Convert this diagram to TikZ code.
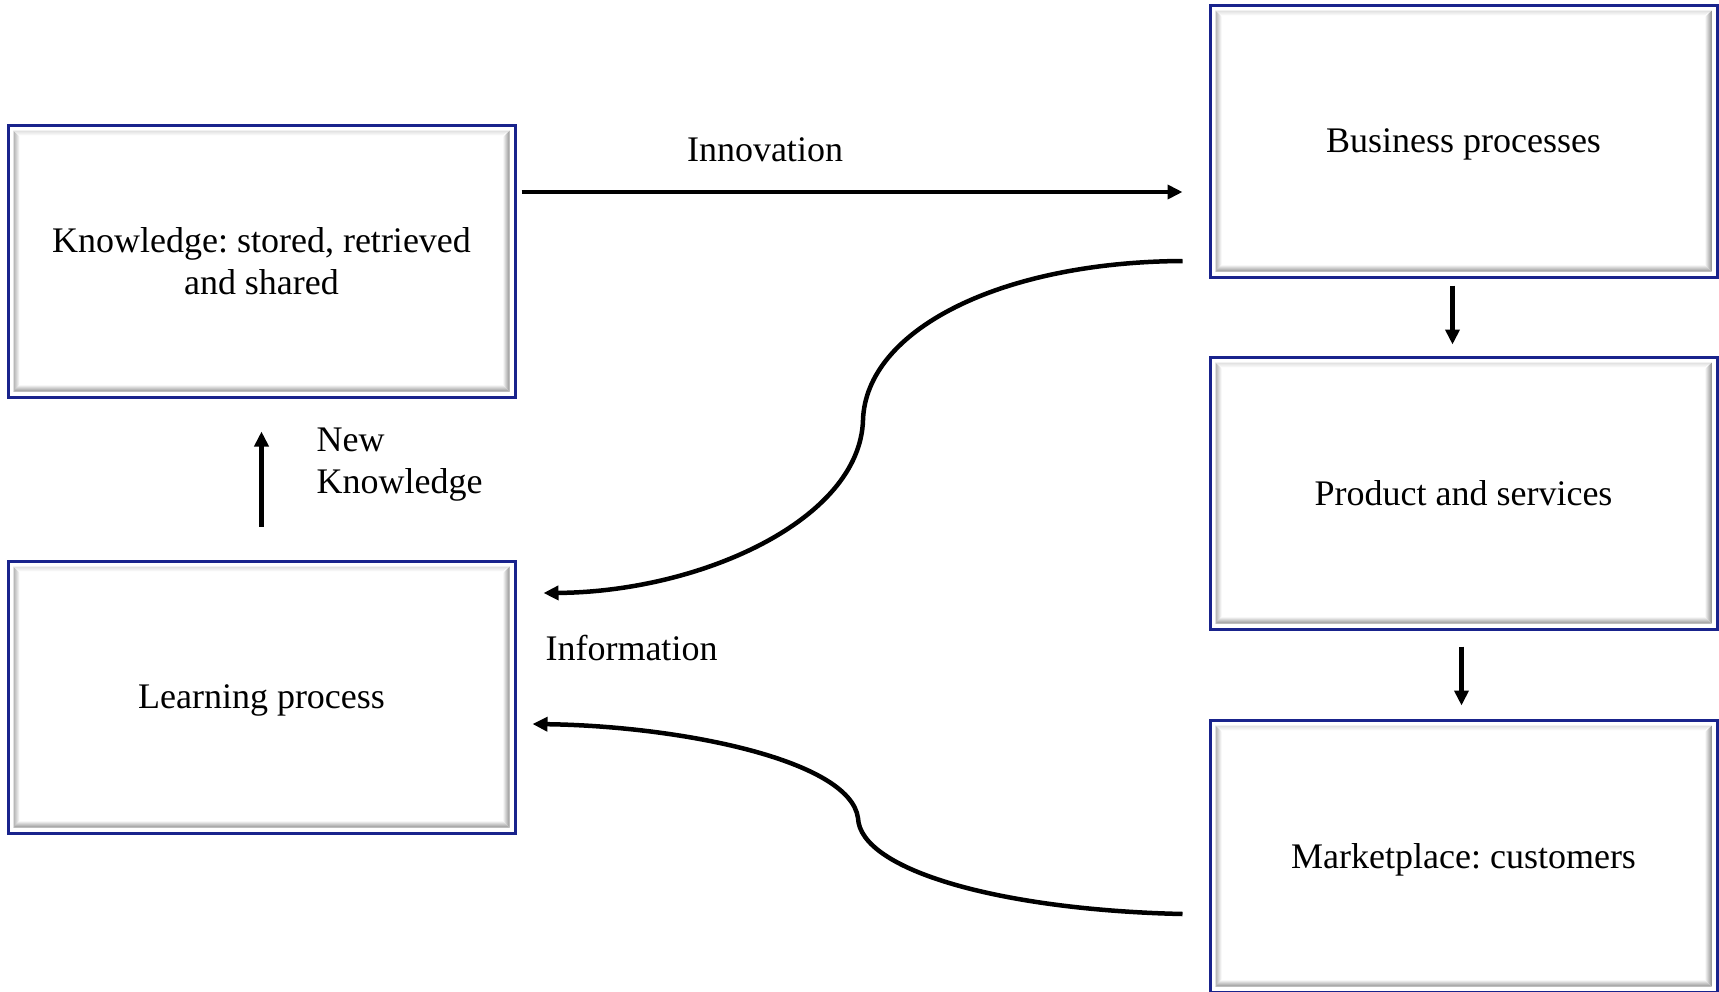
\documentclass[tikz,border=0pt]{standalone}
\usepackage{fontspec}
\setmainfont{Liberation Serif}
\frenchspacing
\usepackage{tikz}
\usetikzlibrary{
  positioning,
  arrows.meta
}
\definecolor{boxblue}{RGB}{25,35,140}
\tikzset{box/.style={
  draw=boxblue, line width=3pt,
  fill=white,
  minimum width=507pt,
  minimum height=272pt,
  align=center,
  font=\fontsize{36}{42}\selectfont
}}
\tikzset{oneline/.style={
  box,
  text depth=0pt
}}
\tikzset{flow/.style={
  line width=4.5pt,
  -{Triangle[length=15pt,width=14pt]}
}}
\tikzset{label/.style={
  font=\fontsize{36}{42}\selectfont
}}

\begin{document}
\begin{tikzpicture}[x=1pt,y=-1pt]
  \useasboundingbox (0,0) rectangle (1719,991);
  \node [box] (know)       at (261.5,261) {Knowledge: stored, retrieved\\and shared};
  \node [oneline] (learn)  at (261.5,697) {Learning process};
  \node [oneline] (busi)   at (1463.5,141) {Business processes};
  \node [oneline] (prod)   at (1463.5,493) {Product and services};
  \node [oneline] (market) at (1463.5,856) {Marketplace: customers};
  \foreach \n in {know,learn,busi,prod,market}{
    \shade [left color=gray!60, right color=white]
      ([shift={(7,7)}]\n.north west) -- ([shift={(13,13)}]\n.north west)
      -- ([shift={(13,-13)}]\n.south west) -- ([shift={(7,-7)}]\n.south west) -- cycle;
    \shade [left color=white, right color=gray!85]
      ([shift={(-7,7)}]\n.north east) -- ([shift={(-14,14)}]\n.north east)
      -- ([shift={(-14,-14)}]\n.south east) -- ([shift={(-7,-7)}]\n.south east) -- cycle;
    \shade [top color=gray!25, bottom color=white]
      ([shift={(7,7)}]\n.north west) -- ([shift={(-7,7)}]\n.north east)
      -- ([shift={(-14,12)}]\n.north east) -- ([shift={(13,12)}]\n.north west) -- cycle;
    \shade [top color=white, bottom color=gray!85]
      ([shift={(7,-7)}]\n.south west) -- ([shift={(-7,-7)}]\n.south east)
      -- ([shift={(-14,-14)}]\n.south east) -- ([shift={(13,-14)}]\n.south west) -- cycle;
  }
  \node [label] (innov) at (765,150) {Innovation};
  \node [label, anchor=west] (info) at (542,648) {Information};
  \node [label, anchor=west, align=left] (newk) at (313,465) {New\\Knowledge};
  \draw [flow] ([xshift=5pt,yshift=69pt]know.east) -- ([xshift=-26pt,yshift=-51pt]busi.west);
  \draw [flow] ([xshift=-11pt,yshift=-7pt]busi.south) -- ([xshift=-11pt,yshift=11pt]prod.north);
  \draw [flow] ([xshift=-2pt,yshift=-16pt]prod.south) -- ([xshift=-2pt,yshift=13pt]market.north);
  \draw [flow] ([yshift=33pt]learn.north) -- ([yshift=-33pt]know.south);
  \draw [flow] ([xshift=-26pt,yshift=-120pt]busi.west)
    .. controls (1000,262) and (866,330) .. (863,420)
    .. controls (860,520) and (700,592) .. ([xshift=27pt,yshift=104pt]learn.east);
  \draw [flow] ([xshift=-26pt,yshift=-58pt]market.west)
    .. controls (1000,910) and (860,870) .. (858,818)
    .. controls (850,760) and (680,726) .. ([xshift=16pt,yshift=-27pt]learn.east);
\end{tikzpicture}
\end{document}
